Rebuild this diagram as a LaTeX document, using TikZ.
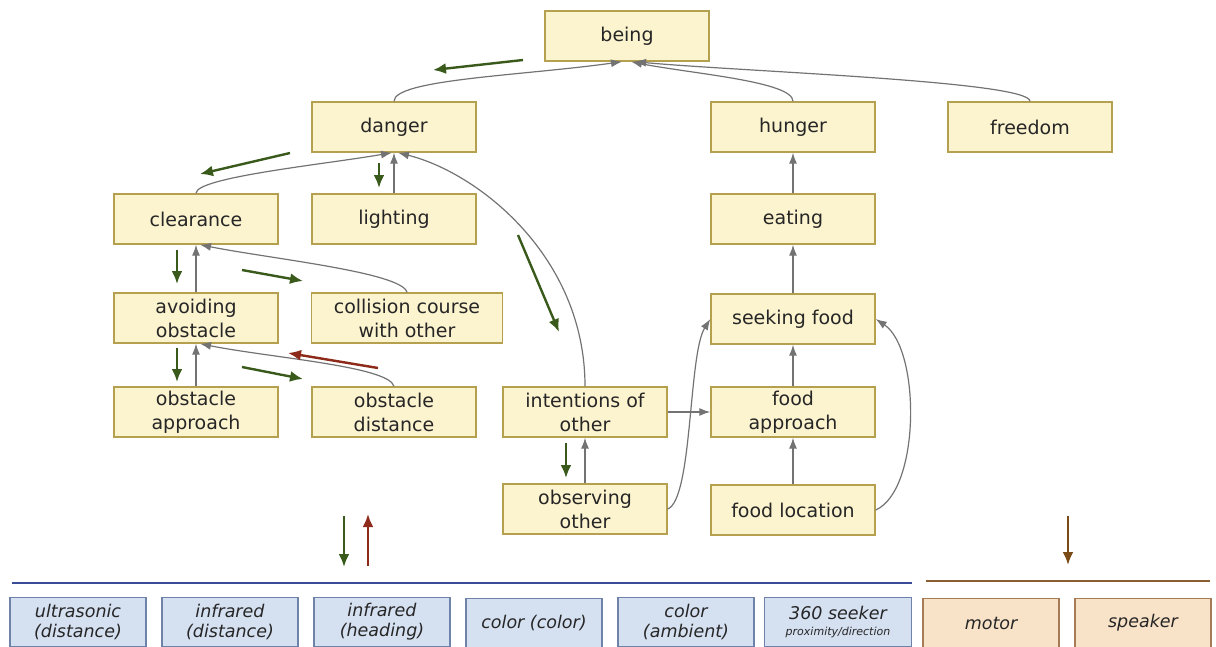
\documentclass[tikz,border=0pt]{standalone}
\usepackage{fontspec}
\setmainfont{DejaVu Sans}
\usepackage{tikz}
\usetikzlibrary{arrows.meta}
\definecolor{goalfill}{HTML}{FCF3CF}
\definecolor{goalline}{HTML}{B5A050}
\definecolor{sensfill}{HTML}{D5E0F1}
\definecolor{sensline}{HTML}{6F82AA}
\definecolor{actfill}{HTML}{F8E2C8}
\definecolor{actline}{HTML}{A57C55}
\definecolor{busblue}{HTML}{3A4C98}
\definecolor{busbrown}{HTML}{8C5E33}
\definecolor{flowgreen}{HTML}{3A5A1C}
\definecolor{flowred}{HTML}{8E2A1A}
\definecolor{flowbrown}{HTML}{7A4B17}

\begin{document}
\begin{tikzpicture}[x=1pt, y=-1pt,
    goal/.style={draw=goalline, fill=goalfill, line width=1.4pt, minimum width=164pt,
      minimum height=50pt, align=center, text=black!85,
      font=\fontsize{19}{24}\selectfont},
    sensor/.style={draw=sensline, fill=sensfill, line width=1.4pt, minimum width=136pt,
      minimum height=49pt, align=center, text=black!85,
      font=\fontsize{17.5}{20}\selectfont\itshape},
    actor/.style={sensor, draw=actline, fill=actfill},
    link/.style={draw=black!55, line width=1.2pt, -{Latex[length=11pt,width=8pt]}},
    flow/.style={line width=2.4pt, -{Latex[length=13pt,width=11pt]}}]
      \useasboundingbox (0,0) rectangle (1216,646);

      \draw (627,36) node[goal] (being) {being};
      \draw (394,127) node[goal] (danger) {danger};
      \draw (793,127) node[goal] (hunger) {hunger};
      \draw (1030,127) node[goal] (freedom) {freedom};
      \draw (196,219) node[goal] (clear) {clearance};
      \draw (394,219) node[goal] (light) {lighting};
      \draw (793,219) node[goal] (eat) {eating};
      \draw (196,318) node[goal] (avoid) {avoiding\\obstacle};
      \draw (407,318) node[goal, minimum width=191pt] (collide) {collision course\\with other};
      \draw (793,319) node[goal] (seek) {seeking food};
      \draw (196,412) node[goal] (obsapp) {obstacle\\approach};
      \draw (394,412) node[goal] (obsdist) {obstacle\\distance};
      \draw (585,412) node[goal] (intent) {intentions of\\other};
      \draw (793,412) node[goal] (foodapp) {food\\approach};
      \draw (585,509) node[goal] (observe) {observing\\other};
      \draw (793,510) node[goal] (foodloc) {food location};

      \draw[link] (danger.north) .. controls +(0,-22) and +(-100,14) .. ([xshift=-5pt]being.south);
      \draw[link] (hunger.north) .. controls +(0,-20) and +(60,12) .. ([xshift=4pt]being.south);
      \draw[link] (freedom.north) .. controls +(0,-20) and +(110,10) .. ([xshift=8pt]being.south);
      \draw[link] (clear.north) .. controls +(0,-16) and +(-70,12) .. ([xshift=-2pt]danger.south);
      \draw[link] (light) -- (danger);
      \draw[link] (intent.north) .. controls +(0,-130) and +(80,20) .. ([xshift=4pt]danger.south);
      \draw[link] (eat) -- (hunger);
      \draw[link] (seek) -- (eat);
      \draw[link] (avoid) -- (clear);
      \draw[link] (collide.north) .. controls +(-5,-20) and +(70,14) .. ([xshift=4pt]clear.south);
      \draw[link] (obsapp) -- (avoid);
      \draw[link] (obsdist.north) .. controls +(-5,-20) and +(70,14) .. ([xshift=4pt]avoid.south);
      \draw[link] (observe) -- (intent);
      \draw[link] (intent) -- (foodapp);
      \draw[link] (observe.east) .. controls +(25,-10) and +(-22,35) .. (seek.west);
      \draw[link] (foodapp) -- (seek);
      \draw[link] (foodloc) -- (foodapp);
      \draw[link] (foodloc.east) .. controls +(45,-20) and +(45,30) .. (seek.east);

      \draw[flow, flowgreen] (523,60) -- (433,70);
      \draw[flow, flowgreen] (290,153) -- (200,174);
      \draw[flow, flowgreen] (379,163) -- (379,188);
      \draw[flow, flowgreen] (518,235) -- (559,332);
      \draw[flow, flowgreen] (177,250) -- (177,284);
      \draw[flow, flowgreen] (242,270) -- (303,281);
      \draw[flow, flowgreen] (177,348) -- (177,382);
      \draw[flow, flowgreen] (242,367) -- (303,379);
      \draw[flow, flowred] (378,368) -- (288,353);
      \draw[flow, flowgreen] (566,443) -- (566,478);
      \draw[flow, flowgreen] (344,516) -- (344,567);
      \draw[flow, flowred] (368,566) -- (368,514);
      \draw[flow, flowbrown] (1068,516) -- (1068,565);

      \draw[busblue, line width=1.8pt] (12,583) -- (912,583);
      \draw[busbrown, line width=1.8pt] (926,581) -- (1210,581);

      \draw (78,622) node[sensor] (ultra) {ultrasonic\\(distance)};
      \draw (230,622) node[sensor] (irdist) {infrared\\(distance)};
      \draw (382,622) node[sensor] (irhead) {infrared\\(heading)};
      \draw (534,623) node[sensor] (colcol) {color (color)};
      \draw (686,622) node[sensor] (colamb) {color\\(ambient)};
      \draw (838,622) node[sensor, minimum width=147pt] (seeker)
        {360 seeker\\[-4pt]{\fontsize{11}{12}\selectfont proximity/direction}};
      \draw (991,623) node[actor] (motor) {motor};
      \draw (1143,623) node[actor] (speaker) {speaker};
\end{tikzpicture}
\end{document}
